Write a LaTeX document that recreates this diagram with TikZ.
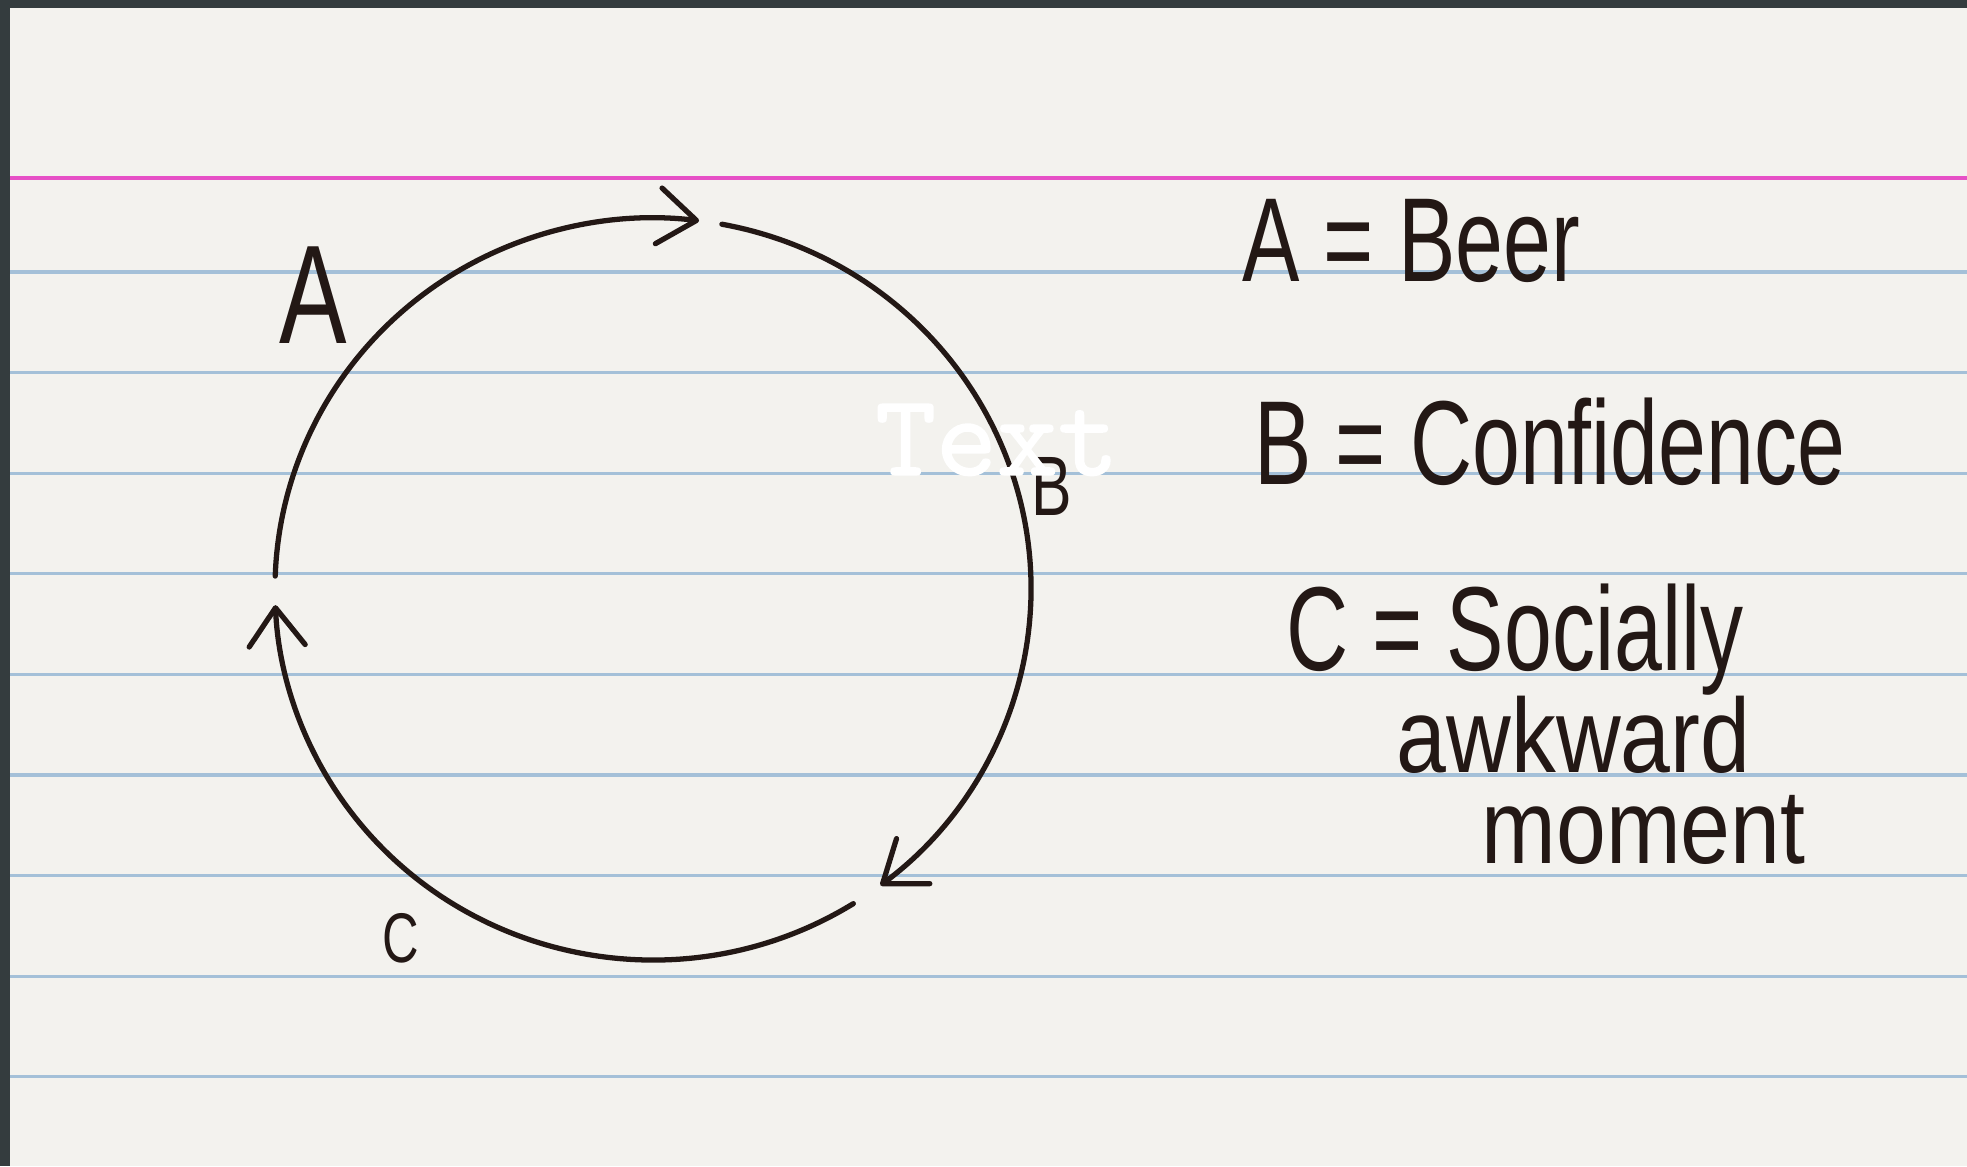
\documentclass[tikz,border=0pt]{standalone}
\usepackage{fontspec}
\newfontfamily\handfont[FakeStretch=0.72]{Liberation Sans}
\newfontfamily\handwide[FakeStretch=0.85]{Liberation Sans}
\newfontfamily\stampfont[FakeBold=1.2]{lmmono10-regular.otf}
\usepackage{tikz}
\usetikzlibrary{arrows.meta}
\definecolor{cardbg}{RGB}{243,242,238}
\definecolor{deskgray}{RGB}{52,60,62}
\definecolor{ruleblue}{RGB}{164,192,216}
\definecolor{rulepink}{RGB}{230,80,198}
\definecolor{ink}{RGB}{35,24,21}
\tikzset{
  ruling/.style={line width=0.9pt,ruleblue},
  headrule/.style={line width=1.4pt,rulepink},
  loopline/.style={line width=1.5pt,ink,line cap=round,
            -{Straight Barb[round,length=3.8mm,width=5.6mm]}},
  looplabel/.style={text=ink,inner sep=0pt},
  keyline/.style={font=\handfont\fontsize{34}{40}\selectfont,text=ink,
            anchor=base west,inner sep=0pt},
  keysub/.style={keyline,font=\handwide\fontsize{30}{36}\selectfont},
  stamptext/.style={font=\stampfont\fontsize{33}{38}\selectfont,text=white,
            anchor=base,inner sep=0pt},
}

\begin{document}
\begin{tikzpicture}
  \useasboundingbox (0,0) rectangle (19.67,11.66);
  \fill[deskgray] (0,0) rectangle (19.67,11.66);
  \fill[cardbg] (0.10,0) rectangle (19.67,11.58);
  \draw[headrule] (0.10,9.88) -- (19.67,9.88);
  \foreach \k in {0,...,8}
    \draw[ruling] (0.10,8.94-1.006*\k) -- (19.67,8.94-1.006*\k);

  \coordinate (ctr) at (6.53,5.77);
  \coordinate (a0) at ([shift={(178:3.78 and 3.71)}]ctr);
  \coordinate (b0) at ([shift={(79.5:3.78 and 3.71)}]ctr);
  \coordinate (c0) at ([shift={(-58:3.78 and 3.71)}]ctr);

  \draw[loopline] (a0) arc[start angle=178,end angle=83,x radius=3.78,y radius=3.71];
  \draw[loopline] (b0) arc[start angle=79.5,end angle=-53,x radius=3.78,y radius=3.71];
  \draw[loopline] (c0) arc[start angle=-58,end angle=-177.5,x radius=3.78,y radius=3.71];

  \node[looplabel,font=\handfont\fontsize{40}{44}\selectfont] (labA) at (3.13,8.71) {A};
  \node[looplabel,font=\handfont\fontsize{24}{28}\selectfont] (labB) at (10.52,6.80) {B};
  \node[looplabel,font=\handfont\fontsize{20}{24}\selectfont] (labC) at (4.01,2.28) {C};

  \node[keyline] (keyA) at (12.42,8.84) {A = Beer};
  \node[keyline] (keyB) at (12.54,6.81) {B = Confidence};
  \node[keyline] (keyC) at (12.86,4.95) {C = Socially};
  \node[keysub] (keyC2) at (13.96,3.94) {awkward};
  \node[keysub] (keyC3) at (14.81,3.03) {moment};

  \node[stamptext] (stamp) at (9.97,6.91) {Text};
\end{tikzpicture}
\end{document}
